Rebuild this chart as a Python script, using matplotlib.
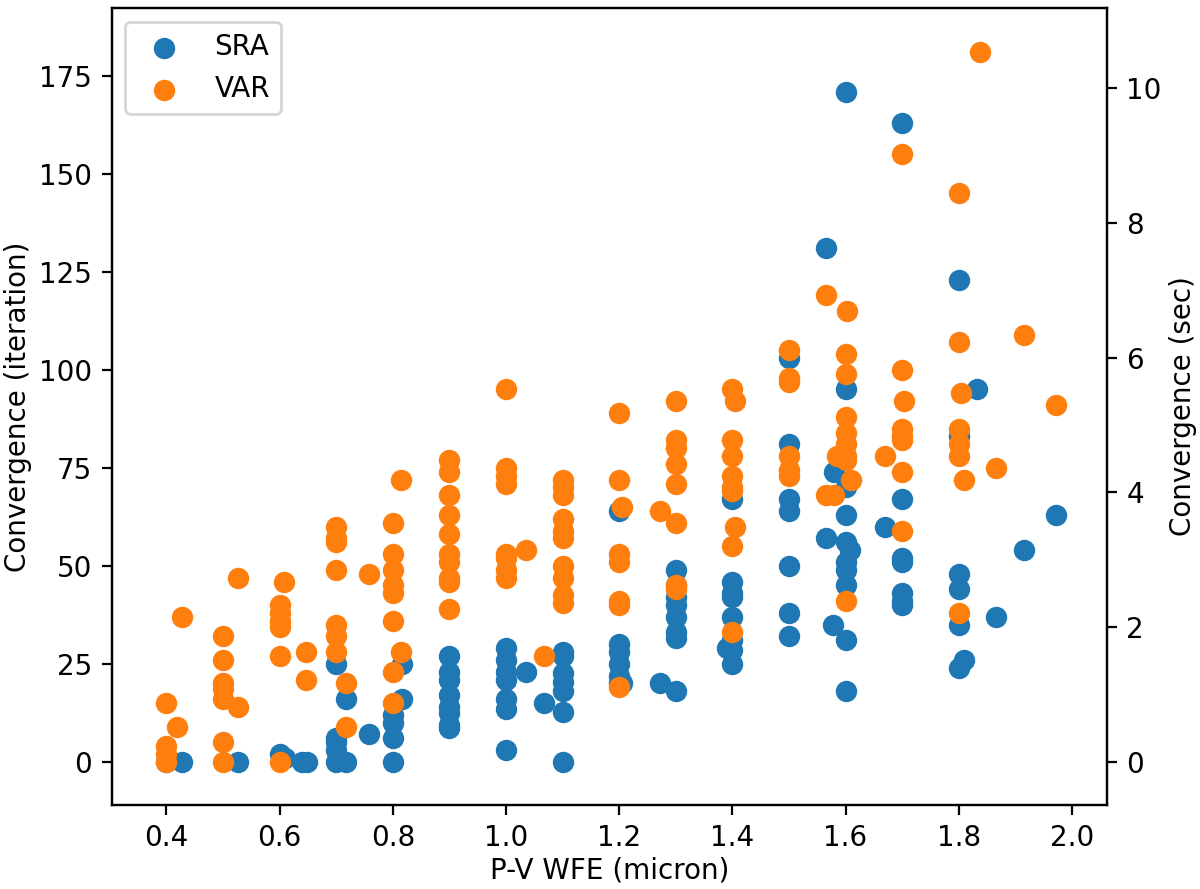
import numpy as np
import matplotlib
matplotlib.use("Agg")
import matplotlib.pyplot as plt

# SRA convergence (iterations) vs P-V WFE
sra_x = [0.4, 0.427, 0.527, 0.6, 0.609, 0.639, 0.648,
         0.7, 0.7, 0.7, 0.7, 0.7, 0.718, 0.718, 0.757,
         0.8, 0.8, 0.8, 0.8, 0.817, 0.817,
         0.9, 0.9, 0.9, 0.9, 0.9, 0.9, 0.9, 0.9,
         1.0, 1.0, 1.0, 1.0, 1.0, 1.0, 1.0, 1.035, 1.067,
         1.1, 1.1, 1.1, 1.1, 1.1, 1.1, 1.1,
         1.2, 1.2, 1.2, 1.2, 1.2, 1.2, 1.205, 1.272,
         1.3, 1.3, 1.3, 1.3, 1.3, 1.3, 1.3, 1.3,
         1.4, 1.4, 1.4, 1.4, 1.4, 1.4, 1.4, 1.4, 1.39,
         1.5, 1.5, 1.5, 1.5, 1.5, 1.5, 1.5,
         1.566, 1.566, 1.577, 1.58,
         1.6, 1.6, 1.6, 1.6, 1.6, 1.6, 1.6, 1.6, 1.6, 1.6, 1.608, 1.67,
         1.7, 1.7, 1.7, 1.7, 1.7, 1.7, 1.7,
         1.8, 1.8, 1.8, 1.8, 1.8, 1.8, 1.809, 1.832, 1.866, 1.915, 1.972]
sra_y = [0, 0, 0, 2, 1, 0, 0,
         25, 6, 5, 3, 0, 16, 0, 7,
         12, 10, 6, 0, 25, 16,
         27, 23, 21, 17, 14, 12.5, 9.5, 8.7,
         29, 26, 23, 21, 16, 13.5, 3, 23, 15,
         28, 27, 22.7, 20.5, 18, 12.8, 0,
         64, 30, 28, 25, 22, 20, 20, 20,
         49, 45, 42, 40, 37, 33, 31.6, 18,
         67, 46, 43, 42, 37, 31, 28.6, 25, 29,
         103, 81, 67, 64, 50, 38, 32,
         131, 57, 35, 74,
         171, 95, 70, 63, 56, 51, 49, 45, 31, 18, 54, 60,
         163, 67, 52, 51, 43, 41, 40,
         123, 83, 48, 44, 35, 24, 26, 95, 37, 54, 63]

# VAR convergence (iterations) vs P-V WFE
var_x = [0.4, 0.4, 0.4, 0.4, 0.419, 0.427,
         0.5, 0.5, 0.5, 0.5, 0.5, 0.5, 0.5, 0.527, 0.527,
         0.6, 0.6, 0.6, 0.6, 0.6, 0.6, 0.607, 0.646, 0.646,
         0.7, 0.7, 0.7, 0.7, 0.7, 0.7, 0.7, 0.718, 0.718, 0.757,
         0.8, 0.8, 0.8, 0.8, 0.8, 0.8, 0.8, 0.8, 0.815, 0.815,
         0.9, 0.9, 0.9, 0.9, 0.9, 0.9, 0.9, 0.9, 0.9, 0.9,
         1.0, 1.0, 1.0, 1.0, 1.0, 1.0, 1.0, 1.0, 1.035, 1.067,
         1.1, 1.1, 1.1, 1.1, 1.1, 1.1, 1.1, 1.1, 1.1, 1.1,
         1.2, 1.2, 1.2, 1.2, 1.2, 1.2, 1.2, 1.205, 1.272,
         1.3, 1.3, 1.3, 1.3, 1.3, 1.3, 1.3, 1.3,
         1.4, 1.4, 1.4, 1.4, 1.4, 1.4, 1.4, 1.4, 1.404, 1.404,
         1.5, 1.5, 1.5, 1.5, 1.5, 1.5,
         1.565, 1.565, 1.58, 1.585,
         1.6, 1.6, 1.6, 1.6, 1.6, 1.6, 1.6, 1.6, 1.603, 1.61, 1.67,
         1.7, 1.7, 1.7, 1.7, 1.7, 1.7, 1.7, 1.704,
         1.8, 1.8, 1.8, 1.8, 1.8, 1.8, 1.804, 1.809,
         1.837, 1.866, 1.915, 1.972]
var_y = [15, 4, 2, 0, 9, 37,
         32, 26, 20, 18.6, 16, 5, 0, 47, 14,
         40, 38, 36, 34.5, 27, 0, 46, 28, 21,
         60, 57, 56, 49, 35, 32, 28, 20, 9, 48,
         61, 53, 49, 45, 43, 36, 23, 15, 72, 28,
         77, 74, 68, 63, 58, 53, 51, 47, 46, 39,
         95, 75, 73, 71, 53, 52, 49, 47, 54, 27,
         72, 70, 68, 62, 59, 57, 50, 47, 42.6, 40.5,
         89, 72, 53, 51, 41, 40, 19, 65, 64,
         92, 82, 80, 76, 71, 61, 45, 44,
         95, 82, 78, 73, 70, 69, 55, 33, 92, 60,
         105, 98, 97, 78, 74.5, 73,
         119, 68, 68, 78,
         104, 99, 88, 84, 81, 78, 77, 41, 115, 72, 78,
         155, 100, 85, 83, 82, 74, 59, 92,
         145, 107, 85, 81, 78, 38, 94, 72,
         181, 75, 109, 91]

iter_per_sec = 17.19  # right axis scale: iterations per second

fig, ax = plt.subplots(figsize=(6, 4.445), dpi=200)
fig.subplots_adjust(left=0.093, right=0.9225, top=0.991, bottom=0.0945)

ax.scatter(sra_x, sra_y, s=45, color='#1f77b4', label='SRA', zorder=2)
ax.scatter(var_x, var_y, s=45, color='#ff7f0e', label='VAR', zorder=3)

ax.set_xlim(0.303, 2.062)
ax.set_ylim(-11, 192.3)
ax.set_xticks(np.arange(0.4, 2.01, 0.2))
ax.set_yticks(np.arange(0, 176, 25))
ax.set_xlabel("P-V WFE (micron)", labelpad=1.5)
ax.set_ylabel("Convergence (iteration)", labelpad=2.5)
ax.legend(loc='upper left')

ax2 = ax.twinx()
lo, hi = ax.get_ylim()
ax2.set_ylim(lo / iter_per_sec, hi / iter_per_sec)
ax2.set_yticks([0, 2, 4, 6, 8, 10])
ax2.set_ylabel("Convergence (sec)", labelpad=2.5)

fig.savefig("out.png", dpi=200)
